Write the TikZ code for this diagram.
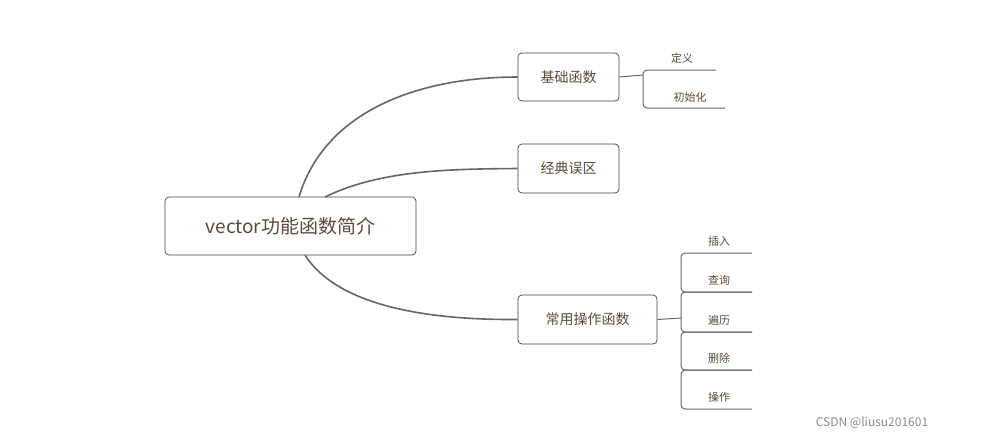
\documentclass[tikz,border=0pt]{standalone}
\usepackage{fontspec}
\setmainfont{Noto Sans CJK SC}
\begin{document}
\begin{tikzpicture}[x=1pt,y=-1pt,
  box/.style={draw=black!75,rounded corners=4pt,line width=0.7pt,text=txt,inner sep=0pt,anchor=center},
  conn/.style={draw=black!60,line width=1.6pt},
  br/.style={draw=black!60,line width=1pt,rounded corners=4pt},
  lab/.style={text=txt,font=\fontsize{11}{13}\selectfont,inner sep=0pt}]
\definecolor{txt}{HTML}{5A4A3A}
\useasboundingbox (0,0) rectangle (981,440);
\node[box,minimum width=251pt,minimum height=58pt,font=\fontsize{19}{22}\selectfont] (m) at (290.5,226) {vector功能函数简介};
\node[box,minimum width=101pt,minimum height=48pt,font=\fontsize{14}{17}\selectfont] (a) at (568.5,77) {基础函数};
\node[box,minimum width=101pt,minimum height=49pt,font=\fontsize{14}{17}\selectfont] (b) at (568.5,168.5) {经典误区};
\node[box,minimum width=139pt,minimum height=49pt,font=\fontsize{14}{17}\selectfont] (c) at (587.5,319.5) {常用操作函数};
\draw[conn] (299,197) .. controls (325,110) and (420,77) .. (a.west);
\draw[conn] (325,197) .. controls (380,170) and (450,169) .. (b.west);
\draw[conn] (305,255) .. controls (340,310) and (440,320) .. (c.west);
% basic branch
\coordinate (aj) at (643,75);
\draw[br] (a.east) -- (aj);
\draw[br] (716,70) -- (643,70) -- (643,108) -- (725,108);
\node[lab] (a1) at (682,58) {定义};
\node[lab] (a2) at (690,97) {初始化};
% ops branch
\coordinate (cj) at (681,318);
\draw[br] (c.east) -- (cj);
\draw[br] (752,253) -- (681,253) -- (681,292) -- (752,292);
\draw[br] (752,292) -- (681,292) -- (681,332) -- (752,332);
\draw[br] (752,332) -- (681,332) -- (681,370) -- (752,370);
\draw[br] (752,370) -- (681,370) -- (681,409) -- (752,409);
\node[lab] (c1) at (719,241) {插入};
\node[lab] (c2) at (719,280) {查询};
\node[lab] (c3) at (719,320) {遍历};
\node[lab] (c4) at (719,358) {删除};
\node[lab] (c5) at (719,397) {操作};
\node[text=black!45,font=\fontsize{12}{14}\selectfont,inner sep=0pt] (w) at (872,423) {CSDN @liusu201601};
\end{tikzpicture}
\end{document}
